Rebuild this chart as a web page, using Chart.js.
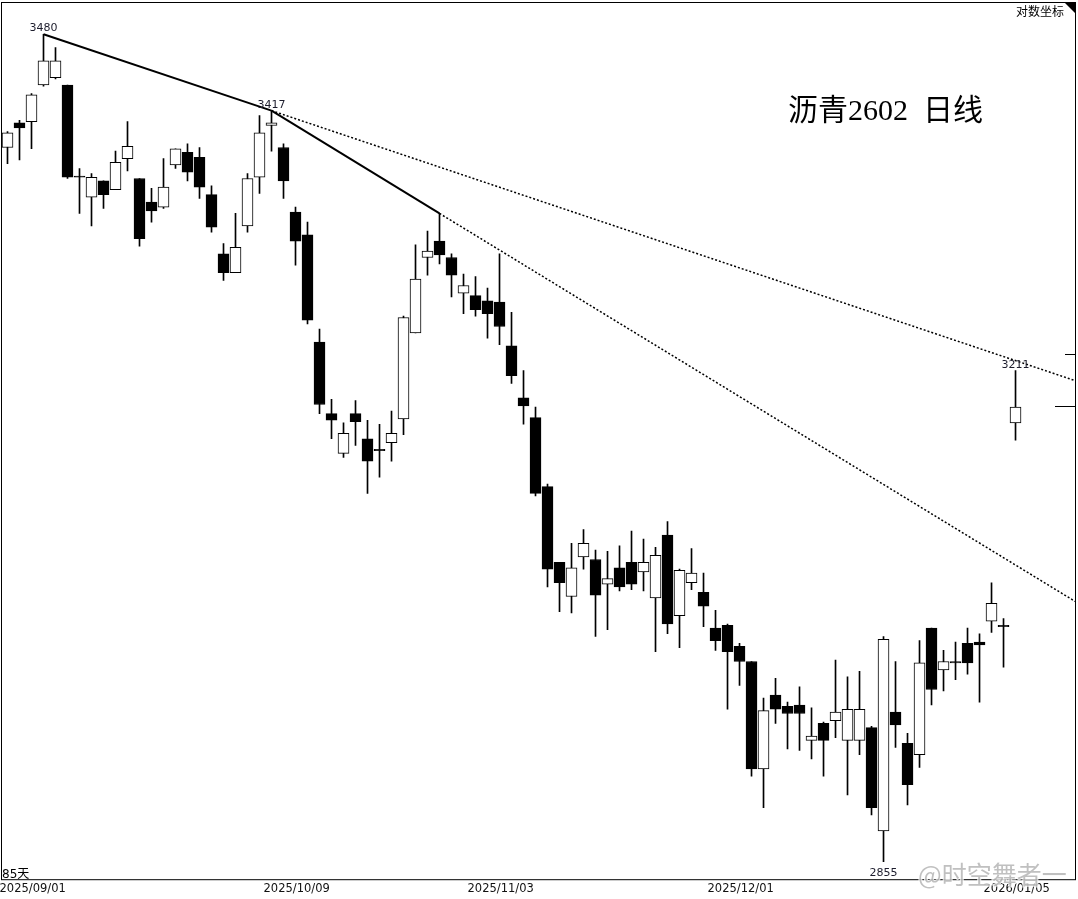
<!DOCTYPE html>
<html>
<head>
<meta charset="utf-8">
<title>沥青2602 日线</title>
<script src="https://cdn.jsdelivr.net/npm/chart.js@4.4.1/dist/chart.umd.min.js"></script>
<style>
body{margin:0;background:#fff;}
canvas{display:block;}
</style>
</head>
<body>
<canvas id="myChart" width="1078" height="899"></canvas>
<script>
// daily candles, 2025/09/01 .. 2026/01/07 (85 days)
var opens  = [3387,3407,3408,3438,3444,3438,3364,3347,3360,3353,3378,3362,3343,3339,3373,3383,3379,3349,3302,3287,
              3324,3363,3405,3387,3335,3317,3233,3178,3148,3178,3159,3151,3156,3174,3240,3299,3312,3299,3271,3269,
              3265,3264,3230,3190,3175,3123,3067,3042,3071,3069,3051,3063,3067,3060,3041,3087,3028,3052,3045,3019,
              3021,3006,2995,2919,2971,2963,2964,2939,2951,2953,2939,2939,2948,2876,2959,2937,2929,3019,2989,2995,
              3008,3009,3024,3021,3171];
var highs  = [3400,3409,3431,3480,3469,3438,3370,3366,3360,3384,3408,3362,3354,3378,3386,3390,3387,3356,3310,3334,
              3366,3413,3417,3390,3339,3327,3243,3189,3171,3188,3173,3170,3180,3253,3309,3320,3334,3302,3286,3284,
              3275,3302,3256,3211,3183,3125,3067,3081,3091,3076,3075,3079,3090,3084,3078,3097,3062,3077,3059,3032,
              3022,3008,2995,2969,2983,2966,2977,2962,2952,2996,2984,2988,2949,3013,2995,2944,3010,3019,3003,3009,
              3019,3015,3052,3026,3211];
var lows   = [3374,3377,3386,3437,3443,3362,3334,3324,3338,3353,3368,3308,3327,3338,3370,3360,3346,3319,3281,3287,
              3319,3350,3384,3346,3293,3247,3178,3159,3145,3154,3118,3130,3142,3162,3240,3285,3294,3268,3255,3253,
              3236,3231,3201,3170,3116,3049,3031,3030,3062,3013,3018,3046,3047,3046,3002,3015,3005,3047,3020,3003,
              2961,2978,2914,2892,2951,2933,2932,2926,2914,2941,2901,2929,2887,2855,2934,2894,2920,2964,2974,2982,
              2986,2966,3016,2991,3158];
var closes = [3399,3403,3430,3458,3458,3363,3363,3363,3349,3375,3388,3314,3336,3355,3386,3367,3355,3323,3287,3307,
              3362,3399,3407,3360,3312,3250,3185,3173,3163,3172,3142,3150,3163,3252,3282,3304,3301,3285,3277,3258,
              3255,3245,3207,3184,3118,3062,3052,3063,3081,3043,3055,3049,3051,3067,3072,3022,3061,3059,3035,3010,
              3002,2995,2919,2960,2961,2958,2958,2942,2939,2959,2961,2961,2892,3011,2950,2908,2994,2975,2995,2994,
              2994,3007,3037,3020,3183];

var tickPos  = [0, 22, 39, 59, 82];
var tickText = ['2025/09/01', '2025/10/09', '2025/11/03', '2025/12/01', '2026/01/05'];

// trend lines through the highs, solid part then dotted extension
var line1X = [3, 22, 89.04];
var line1Y = [3480, 3417, 3203];
var line2X = [22, 36, 89.04];
var line2Y = [3417, 3334, 3038];

var peakIdx   = [3, 22, 84];
var troughIdx = [73];
var sidePrices = [3224, 3184];

var wickData = [], bodyData = [], bodyColor = [];
for (var i = 0; i < opens.length; i++) {
  wickData.push({x: i, y: [lows[i], highs[i]]});
  bodyData.push({x: i, y: [opens[i], closes[i]]});
  bodyColor.push(closes[i] > opens[i] ? '#fff' : '#000');
}

function linePoints(xs, ys) {
  return xs.map(function (x, k) { return {x: x, y: ys[k]}; });
}

var extras = {
  id: 'extras',
  afterDatasetsDraw: function (chart) {
    var ctx = chart.ctx, a = chart.chartArea;
    var xs = chart.scales.x, ys = chart.scales.y;
    ctx.save();
    ctx.strokeStyle = '#000';
    ctx.lineWidth = 1;
    ctx.strokeRect(a.left + 0.5, a.top + 0.5, a.right - a.left - 1, a.bottom - a.top);

    ctx.fillStyle = '#000';
    ctx.beginPath();
    ctx.moveTo(a.right - 12, a.top);
    ctx.lineTo(a.right, a.top);
    ctx.lineTo(a.right, a.top + 12);
    ctx.closePath();
    ctx.fill();

    sidePrices.forEach(function (p, k) {
      var y = Math.round(ys.getPixelForValue(p)) + 0.5;
      ctx.beginPath();
      ctx.moveTo(a.right - (k ? 21 : 11), y);
      ctx.lineTo(a.right, y);
      ctx.stroke();
    });

    ctx.font = '11px "DejaVu Sans"';
    ctx.fillStyle = '#1c1c2c';
    ctx.textAlign = 'center';
    ctx.textBaseline = 'alphabetic';
    peakIdx.forEach(function (i) {
      ctx.fillText(String(highs[i]), xs.getPixelForValue(i), ys.getPixelForValue(highs[i]) - 3);
    });
    ctx.textBaseline = 'top';
    troughIdx.forEach(function (i) {
      ctx.fillText(String(lows[i]), xs.getPixelForValue(i), ys.getPixelForValue(lows[i]) + 6);
    });

    ctx.fillStyle = '#000';
    ctx.textBaseline = 'alphabetic';
    ctx.textAlign = 'left';
    ctx.font = '30px "Liberation Serif", "Noto Sans CJK SC"';
    ctx.fillText('沥青2602  日线', 788, 120);

    ctx.font = '12px "Noto Sans CJK SC"';
    ctx.textAlign = 'right';
    ctx.fillText('对数坐标', a.right - 12, 16);

    ctx.textAlign = 'left';
    ctx.font = '12px "DejaVu Sans", "Noto Sans CJK SC"';
    ctx.fillText(opens.length + '天', 2, 878);
    ctx.restore();
  },
  afterDraw: function (chart) {
    var ctx = chart.ctx;
    ctx.save();
    ctx.font = '25px "Noto Sans CJK SC"';
    ctx.fillStyle = 'rgba(140,140,140,0.55)';
    ctx.strokeStyle = 'rgba(255,255,255,0.8)';
    ctx.lineWidth = 2;
    ctx.textAlign = 'left';
    ctx.strokeText('@时空舞者一', 918, 884);
    ctx.fillText('@时空舞者一', 918, 884);
    ctx.restore();
  }
};

var ctx = document.getElementById('myChart').getContext('2d');
var myChart = new Chart(ctx, {
  type: 'bar',
  data: {
    datasets: [
      {
        label: 'wick',
        data: wickData,
        backgroundColor: '#000',
        borderWidth: 0,
        barThickness: 1,
        grouped: false,
        order: 3
      },
      {
        label: 'body',
        data: bodyData,
        backgroundColor: bodyColor,
        borderColor: '#000',
        borderWidth: 1,
        borderSkipped: false,
        barThickness: 11,
        grouped: false,
        order: 2
      },
      {
        type: 'line',
        label: 'trend1',
        data: linePoints(line1X, line1Y),
        borderColor: '#000',
        borderWidth: 2,
        pointRadius: 0,
        fill: false,
        order: 1,
        segment: {
          borderDash: function (c) { return c.p0DataIndex > 0 ? [2, 2] : undefined; },
          borderWidth: function (c) { return c.p0DataIndex > 0 ? 1.5 : 2; }
        }
      },
      {
        type: 'line',
        label: 'trend2',
        data: linePoints(line2X, line2Y),
        borderColor: '#000',
        borderWidth: 2,
        pointRadius: 0,
        fill: false,
        order: 1,
        segment: {
          borderDash: function (c) { return c.p0DataIndex > 0 ? [2, 2] : undefined; },
          borderWidth: function (c) { return c.p0DataIndex > 0 ? 1.5 : 2; }
        }
      }
    ]
  },
  options: {
    responsive: false,
    animation: false,
    layout: {padding: {left: 1, right: 2, top: 2, bottom: 0}},
    plugins: {legend: {display: false}, tooltip: {enabled: false}},
    scales: {
      x: {
        type: 'linear',
        offset: false,
        min: -0.5417,
        max: 89.04,
        grid: {display: false, drawTicks: false},
        border: {display: false},
        afterBuildTicks: function (axis) {
          axis.ticks = tickPos.map(function (v) { return {value: v}; });
        },
        ticks: {
          autoSkip: false,
          maxRotation: 0,
          minRotation: 0,
          align: 'start',
          labelOffset: -8,
          padding: 3,
          color: '#111',
          font: {family: 'DejaVu Sans', size: 11.5},
          callback: function (v, k) { return tickText[k]; }
        }
      },
      y: {
        type: 'logarithmic',
        display: false,
        min: 2843,
        max: 3507
      }
    }
  },
  plugins: [extras]
});
</script>
</body>
</html>
